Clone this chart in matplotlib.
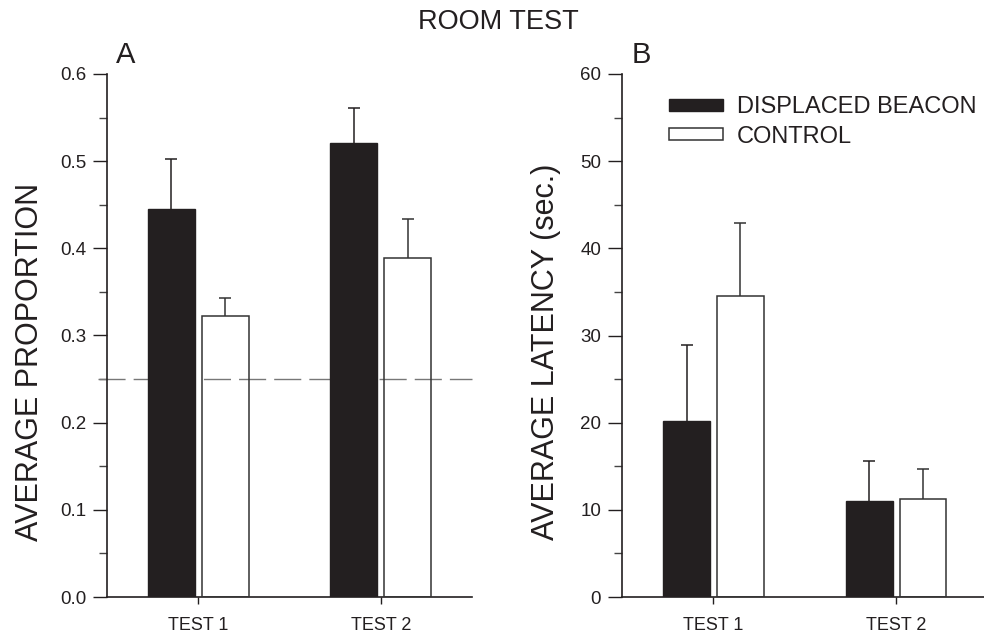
import matplotlib
matplotlib.use('Agg')
import matplotlib.pyplot as plt
import numpy as np
from matplotlib.ticker import MultipleLocator, FormatStrFormatter

plt.rcParams['font.family'] = ['Liberation Sans', 'DejaVu Sans']

# ---- data ----
tests = ['TEST 1', 'TEST 2']
series = ['DISPLACED BEACON', 'CONTROL']
prop_beacon = [0.445, 0.521]
prop_beacon_err = [0.058, 0.040]
prop_control = [0.322, 0.389]
prop_control_err = [0.021, 0.045]
lat_beacon = [20.2, 11.0]
lat_beacon_err = [8.7, 4.6]
lat_control = [34.5, 11.3]
lat_control_err = [8.4, 3.4]
chance_level = 0.25

INK = '#231f20'
W, H = 984, 636
fig = plt.figure(figsize=(W / 100, H / 100), dpi=100)

axA = fig.add_axes([107 / W, 1 - 597 / H, (472 - 107) / W, (597 - 74) / H])
axB = fig.add_axes([622 / W, 1 - 597 / H, (987.5 - 622) / W, (597 - 74) / H])

x = np.arange(len(tests))
bw = 0.257
off = 0.147


def upper_errorbar(ax, xs, ys, err, color):
    zeros = np.zeros(len(ys))
    eb = ax.errorbar(xs, ys, yerr=[zeros, err], fmt='none', ecolor=color, elinewidth=1.1,
                     capsize=4, capthick=1.1, zorder=4)
    caps = eb[1]
    if len(caps) == 2:
        caps[0].set_visible(False)


def draw(ax, b, be, c, ce):
    hb = ax.bar(x - off, b, width=bw, color=INK, edgecolor=INK, linewidth=1.0, zorder=3,
                label=series[0])
    hc = ax.bar(x + off, c, width=bw, facecolor='none', edgecolor='#333333', linewidth=1.1,
                zorder=3, label=series[1])
    upper_errorbar(ax, x - off, b, be, INK)
    upper_errorbar(ax, x + off, c, ce, '#333333')
    ax.set_xlim(-0.5, 1.5)
    ax.set_xticks(x)
    ax.set_xticklabels(tests)
    for s in ['top', 'right']:
        ax.spines[s].set_visible(False)
    for s in ['left', 'bottom']:
        ax.spines[s].set_linewidth(1.2)
        ax.spines[s].set_color(INK)
    ax.tick_params(axis='x', length=5, width=1, color=INK, labelsize=13, pad=9.5, labelcolor=INK)
    ax.tick_params(axis='y', which='major', length=10, width=1, color=INK, labelsize=13.5,
                   pad=5, labelcolor=INK)
    ax.tick_params(axis='y', which='minor', length=6, width=1, color='#444444')
    return hb, hc


draw(axA, prop_beacon, prop_beacon_err, prop_control, prop_control_err)
axA.set_ylim(0, 0.6)
axA.yaxis.set_major_locator(MultipleLocator(0.1))
axA.yaxis.set_minor_locator(MultipleLocator(0.05))
axA.yaxis.set_major_formatter(FormatStrFormatter('%.1f'))
axA.axhline(chance_level, xmin=-0.025, xmax=1.0, color='#777777', linewidth=1.0,
            dashes=(19.5, 5.8), clip_on=False, zorder=2)
axA.set_ylabel('AVERAGE PROPORTION', fontsize=22, color=INK)
axA.yaxis.set_label_coords(-0.17, 0.45)

hb, hc = draw(axB, lat_beacon, lat_beacon_err, lat_control, lat_control_err)
axB.set_ylim(0, 60)
axB.yaxis.set_major_locator(MultipleLocator(10))
axB.yaxis.set_minor_locator(MultipleLocator(5))
axB.set_ylabel('AVERAGE LATENCY (sec.)', fontsize=22, color=INK)
axB.yaxis.set_label_coords(-0.168, 0.468)

leg = axB.legend(handles=[hb, hc], labels=series, loc='upper left',
                 bbox_to_anchor=((669 - 622) / 365.5, (597 - 96) / 523),
                 frameon=False, fontsize=17, handlelength=2.29, handleheight=0.4,
                 handletextpad=0.59, labelspacing=0.32, borderpad=0, borderaxespad=0)
for t in leg.get_texts():
    t.set_color(INK)

fig.text(498.5 / W, 1 - 29 / H, 'ROOM TEST', ha='center', va='baseline', fontsize=19.5, color=INK)
fig.text(116 / W, 1 - 63 / H, 'A', ha='left', va='baseline', fontsize=21, color=INK)
fig.text(632 / W, 1 - 63 / H, 'B', ha='left', va='baseline', fontsize=21, color=INK)

fig.savefig('out.png', dpi=100)
